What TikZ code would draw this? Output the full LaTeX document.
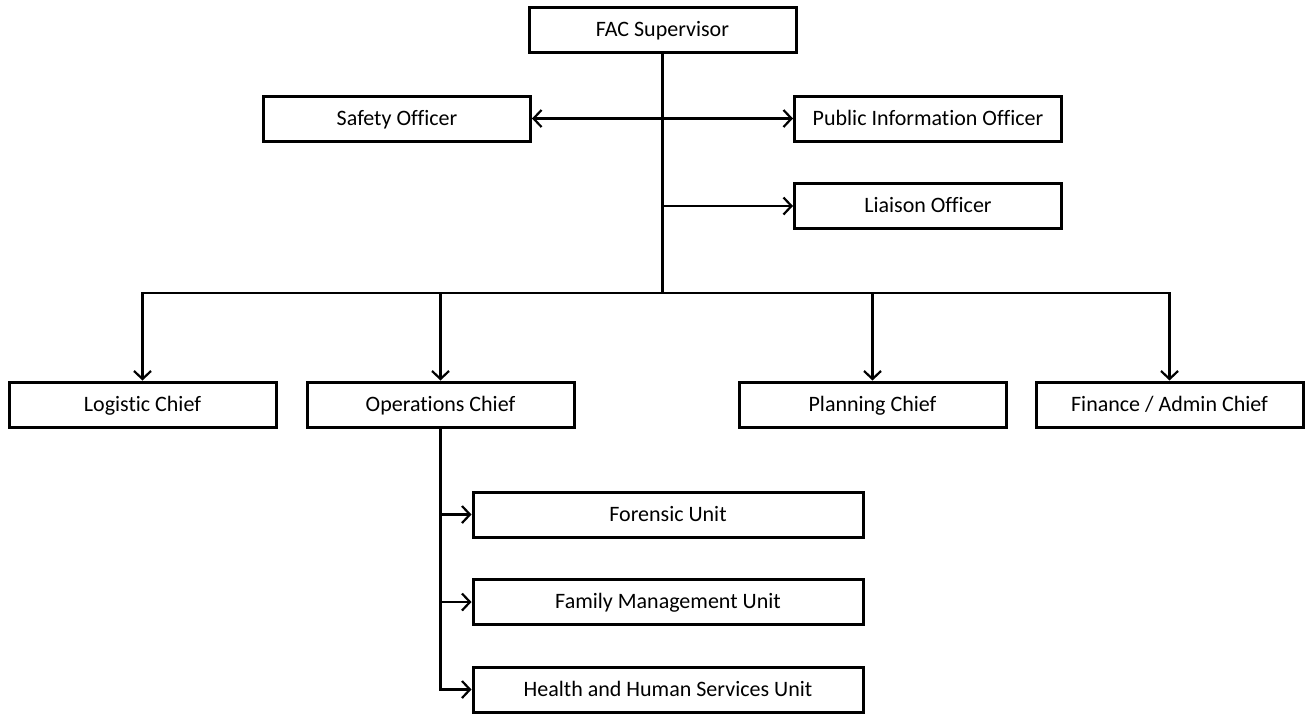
\documentclass[tikz,border=0pt]{standalone}
\usepackage{fontspec}
\setmainfont{Carlito}[Ligatures=NoCommon]
\usetikzlibrary{arrows.meta}

\begin{document}
\begin{tikzpicture}[x=1pt,y=-1pt]
        \tikzset{box/.style={rectangle, draw = black!100, fill=white, line width=3pt, inner sep=0pt, minimum width=267pt, minimum height=45pt, text height=17pt, text depth=4pt, font=\fontsize{22}{24}\selectfont},
                 unitbox/.style={box, minimum width=390pt},
                 link/.style={line width=2.2pt},
                 >={Straight Barb[length=8pt,width=17pt,line width=2.2pt]}}
        \useasboundingbox (0,0) rectangle (1309,713);

	%---NODES---
        \node[box] (sup) at (662.5,30) {FAC Supervisor};
        \node[box] (safety) at (397,118.5) {Safety Officer};
        \node[box] (pio) at (928,118.5) {Public Information Officer};
        \node[box] (liaison) at (928,206) {Liaison Officer};

        \node[box] (logi) at (142.5,404.5) {Logistic Chief};
        \node[box] (ops) at (440.5,404.5) {Operations Chief};
        \node[box] (plan) at (872.5,404.5) {Planning Chief};
        \node[box] (fin) at (1169.5,404.5) {Finance / Admin Chief};

        \node[unitbox] (fore) at (668,514.5) {Forensic Unit};
        \node[unitbox] (fam) at (668,602) {Family Management Unit};
        \node[unitbox] (hhs) at (668,689.5) {Health and Human Services Unit};

        \coordinate (hub) at (662.5,293);
        \coordinate (lia) at (662.5,206);

	%---EDGES---
        \draw[link]   (sup) -- (hub) ;
        \draw[link,<->]   (safety) -- (pio) ;
        \draw[link,->]   (lia) -- (liaison) ;

        \draw[link,->]   (hub) -| (logi) ;
        \draw[link,->]   (hub) -| (ops) ;
        \draw[link,->]   (hub) -| (plan) ;
        \draw[link,->]   (hub) -| (fin) ;

        \draw[link,->]   (ops) |- (fore) ;
        \draw[link,->]   (ops) |- (fam) ;
        \draw[link,->]   (ops) |- (hhs) ;

\end{tikzpicture}
\end{document}
